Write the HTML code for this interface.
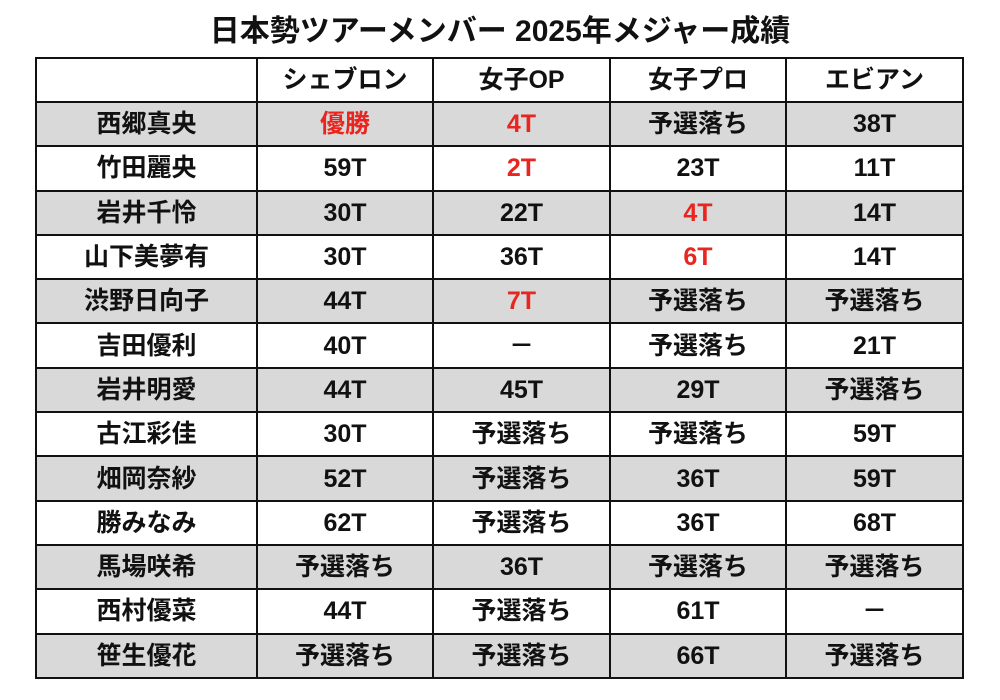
<!DOCTYPE html>
<html><head><meta charset="utf-8"><style>
body{margin:0;width:1000px;height:700px;background:#fff;overflow:hidden;font-family:"Liberation Sans","Noto Sans CJK JP",sans-serif;font-weight:bold;}
.t{position:absolute;left:0;width:1000px;top:12px;text-align:center;font-size:30px;line-height:40px;color:#111;}
table{position:absolute;left:35px;top:57px;border-collapse:collapse;border:2.5px solid #111;table-layout:fixed;}
tr{height:44.3px;}
td{border:2px solid #111;text-align:center;font-size:25px;padding:0;color:#111;line-height:28px;}
tr.h{height:44px;}
tr.g td{background:#d9d9d9;}
.r{color:#e8251f;}
</style></head><body>
<div class="t">日本勢ツアーメンバー 2025年メジャー成績</div>
<table>
<colgroup><col style="width:221px"><col style="width:176px"><col style="width:177px"><col style="width:176px"><col style="width:177px"></colgroup>
<tr class="h"><td></td><td>シェブロン</td><td>女子OP</td><td>女子プロ</td><td>エビアン</td></tr>
<tr class="g"><td>西郷真央</td><td class="r">優勝</td><td class="r">4T</td><td>予選落ち</td><td>38T</td></tr>
<tr><td>竹田麗央</td><td>59T</td><td class="r">2T</td><td>23T</td><td>11T</td></tr>
<tr class="g"><td>岩井千怜</td><td>30T</td><td>22T</td><td class="r">4T</td><td>14T</td></tr>
<tr><td>山下美夢有</td><td>30T</td><td>36T</td><td class="r">6T</td><td>14T</td></tr>
<tr class="g"><td>渋野日向子</td><td>44T</td><td class="r">7T</td><td>予選落ち</td><td>予選落ち</td></tr>
<tr><td>吉田優利</td><td>40T</td><td>－</td><td>予選落ち</td><td>21T</td></tr>
<tr class="g"><td>岩井明愛</td><td>44T</td><td>45T</td><td>29T</td><td>予選落ち</td></tr>
<tr><td>古江彩佳</td><td>30T</td><td>予選落ち</td><td>予選落ち</td><td>59T</td></tr>
<tr class="g"><td>畑岡奈紗</td><td>52T</td><td>予選落ち</td><td>36T</td><td>59T</td></tr>
<tr><td>勝みなみ</td><td>62T</td><td>予選落ち</td><td>36T</td><td>68T</td></tr>
<tr class="g"><td>馬場咲希</td><td>予選落ち</td><td>36T</td><td>予選落ち</td><td>予選落ち</td></tr>
<tr><td>西村優菜</td><td>44T</td><td>予選落ち</td><td>61T</td><td>－</td></tr>
<tr class="g"><td>笹生優花</td><td>予選落ち</td><td>予選落ち</td><td>66T</td><td>予選落ち</td></tr>
</table>
</body></html>
